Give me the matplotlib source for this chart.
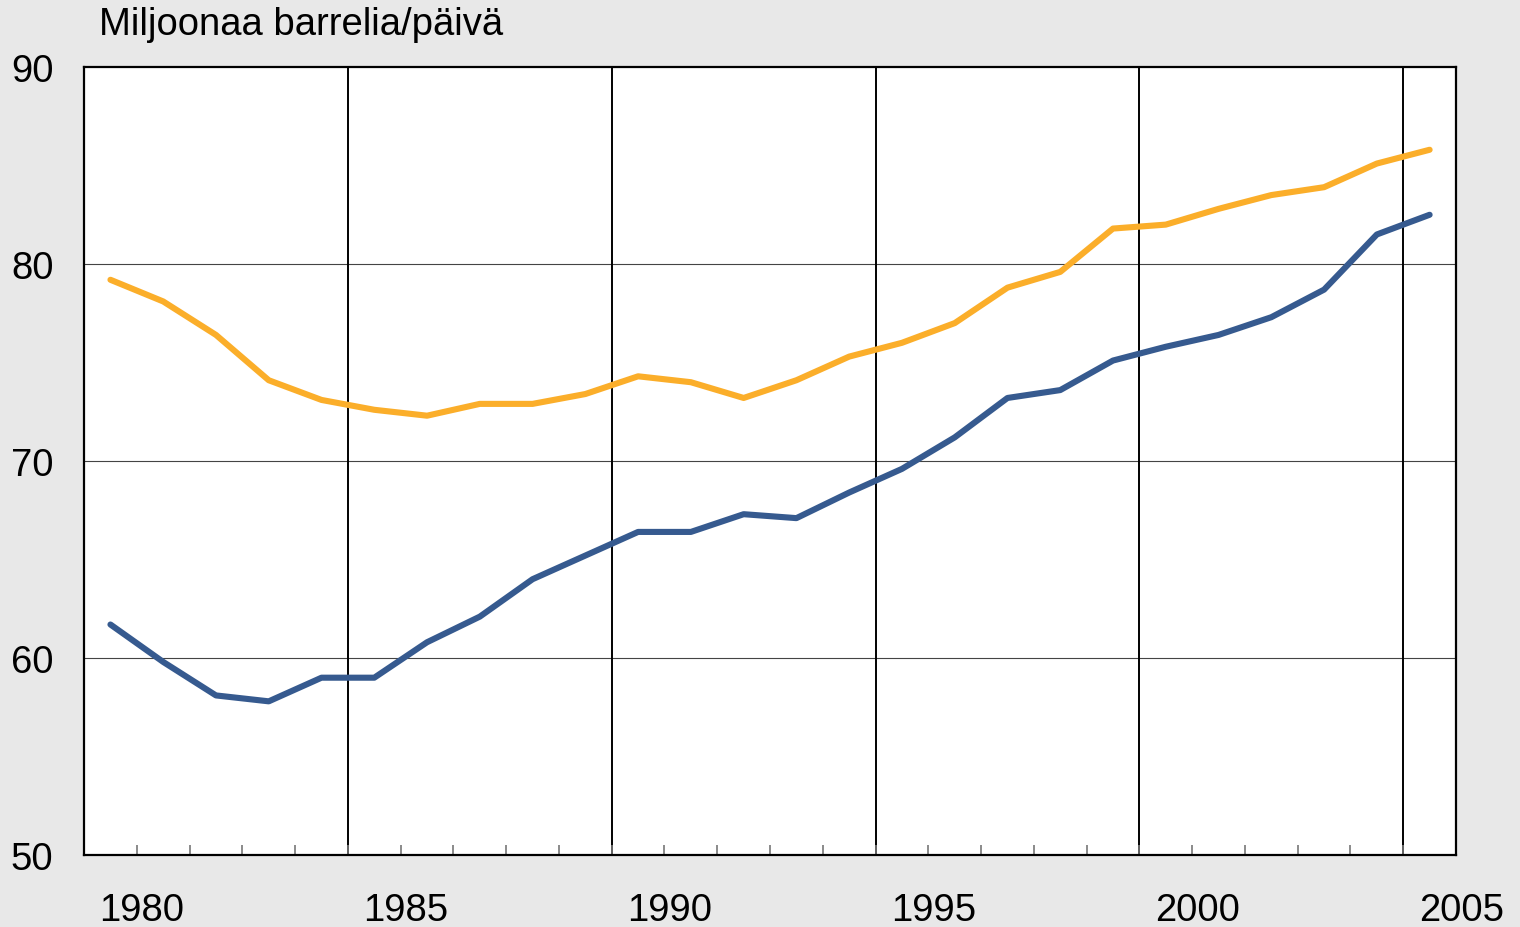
#!/usr/bin/env python3
import matplotlib; matplotlib.use('Agg')  # noqa
import matplotlib.pyplot as plt
import numpy as np

plt.rcParams['font.family'] = ['Liberation Sans', 'DejaVu Sans']

years = list(range(1980, 2006))
supply = [79.2, 78.1, 76.4, 74.1, 73.1, 72.6, 72.3, 72.9, 72.9, 73.4,
          74.3, 74.0, 73.2, 74.1, 75.3, 76.0, 77.0, 78.8, 79.6, 81.8,
          82.0, 82.8, 83.5, 83.9, 85.1, 85.8]
demand = [61.7, 59.8, 58.1, 57.8, 59.0, 59.0, 60.8, 62.1, 64.0, 65.2,
          66.4, 66.4, 67.3, 67.1, 68.4, 69.6, 71.2, 73.2, 73.6, 75.1,
          75.8, 76.4, 77.3, 78.7, 81.5, 82.5]
label_years = [1980, 1985, 1990, 1995, 2000, 2005]
yticks = [50, 60, 70, 80, 90]
unit = 'Miljoonaa barrelia/päivä'

fs = 27.5

fig = plt.figure(figsize=(15.2, 9.28), dpi=100, facecolor='#e8e8e8')
ax = fig.add_axes([0.0553, 0.0776, 0.9026, 0.8491])
ax.set_facecolor('white')

x = np.arange(len(years))
ax.plot(x, supply, color='#fbae2a', lw=4.4, solid_capstyle='round', zorder=3)
ax.plot(x, demand, color='#365a8f', lw=4.4, solid_capstyle='round', zorder=3)

ax.set_xlim(-0.5, len(years) - 0.5)
ax.set_ylim(50, 90)
ax.set_yticks(yticks)
ax.set_yticklabels([str(v) for v in yticks], fontsize=fs)
ax.tick_params(axis='y', length=0, pad=22)
for v in yticks[1:-1]:
    ax.axhline(v, color='#444444', lw=0.8, zorder=1)

# vertical lines between every fifth year, small ticks elsewhere
bounds = x[:-1] + 0.5
for b in bounds:
    if (b + 0.5) % 5 == 0:
        ax.axvline(b, color='black', lw=1.4, zorder=1)
ax.set_xticks(bounds)
ax.set_xticklabels([])
ax.tick_params(axis='x', direction='in', length=7, width=1.2, color='#777777')

for yr in label_years:
    i = years.index(yr)
    ax.text(i + 0.6, -0.07, str(yr), transform=ax.get_xaxis_transform(),
            ha='center', va='center', fontsize=fs, clip_on=False)

for s in ax.spines.values():
    s.set_linewidth(1.6)
    s.set_color('black')

fig.text(99 / 1520, 1 - 25 / 928, unit, ha='left', va='center', fontsize=fs)

fig.savefig('out.png', dpi=100, facecolor=fig.get_facecolor())
